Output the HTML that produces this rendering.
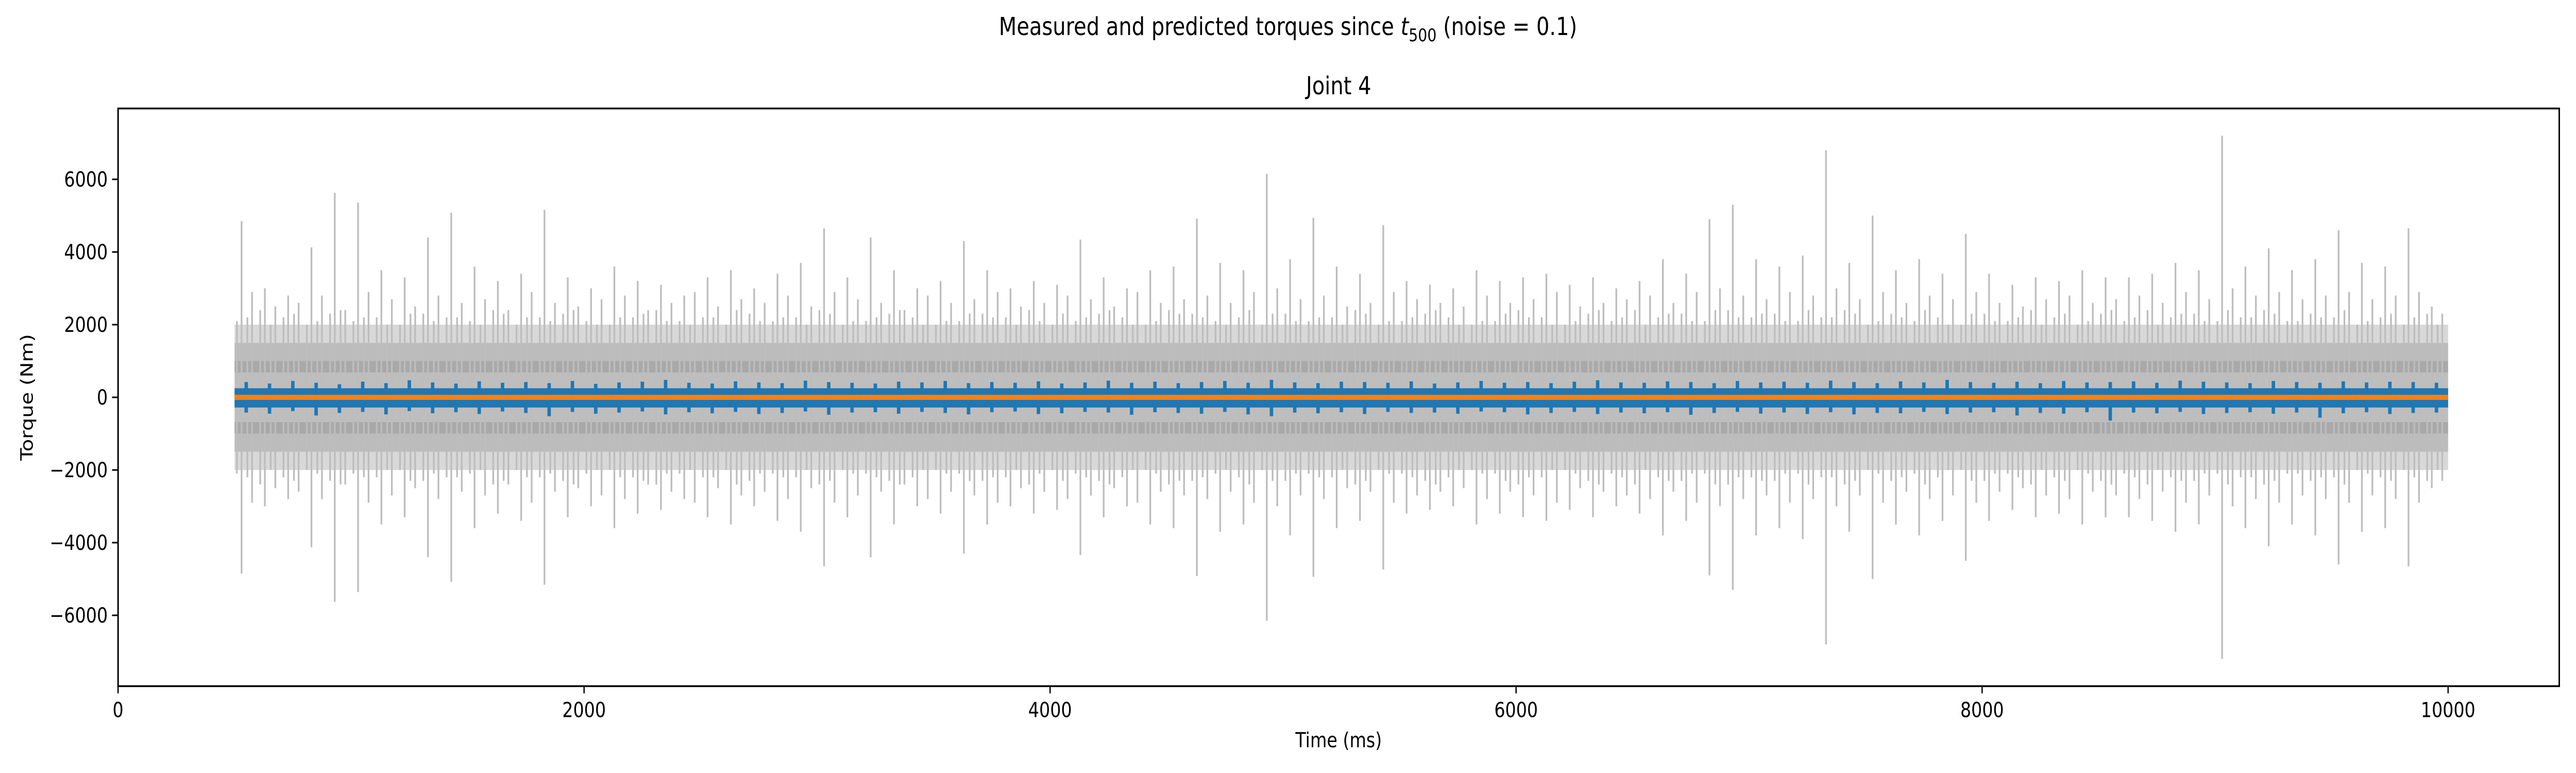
<!DOCTYPE html>
<html><head><meta charset="utf-8"><style>
html,body{margin:0;padding:0;background:#fff;width:100%;height:100%;overflow:hidden;}
svg{display:block;width:100vw;height:100vh;}
text{font-family:"DejaVu Sans","Liberation Sans",sans-serif;fill:#000;}
</style></head><body>
<svg id="chart" viewBox="0 0 6000 1500" preserveAspectRatio="none" xmlns="http://www.w3.org/2000/svg">
<rect width="6000" height="1500" fill="#fff"/>
<text x="3000" y="68" text-anchor="middle" font-size="48">Measured and predicted torques since <tspan font-style="italic">t</tspan><tspan font-size="34" dy="12">500</tspan><tspan dy="-12"> (noise = 0.1)</tspan></text>
<text x="3118" y="183" text-anchor="middle" font-size="48">Joint 4</text>
<g id="plot"></g>
<rect x="275" y="210.5" width="5686" height="1121" fill="none" stroke="#000" stroke-width="3.5"/>
<g id="xticks"></g>
<g id="yticks"></g>
<text x="3118" y="1450" text-anchor="middle" font-size="40">Time (ms)</text>
<text transform="translate(76,771) rotate(-90)" text-anchor="middle" font-size="40">Torque (Nm)</text>
</svg>
<script>
const binStart = [500,600,700,800,900,1000,1100,1200,1300,1400,1500,1600,1700,1800,1900,2000,2100,2200,2300,2400,2500,2600,2700,2800,2900,3000,3100,3200,3300,3400,3500,3600,3700,3800,3900,4000,4100,4200,4300,4400,4500,4600,4700,4800,4900,5000,5100,5200,5300,5400,5500,5600,5700,5800,5900,6000,6100,6200,6300,6400,6500,6600,6700,6800,6900,7000,7100,7200,7300,7400,7500,7600,7700,7800,7900,8000,8100,8200,8300,8400,8500,8600,8700,8800,8900,9000,9100,9200,9300,9400,9500,9600,9700,9800,9900];
const measuredPeak = [4850,3000,2800,4130,5630,5360,3500,3300,4400,5080,3600,3200,3400,5160,3300,3000,3600,3200,3100,2800,3300,3500,3000,3400,3700,4650,3300,4400,3500,3000,3200,4300,3500,3000,3200,3100,4340,3300,3000,3500,3600,4920,3700,3500,6150,3800,4940,3600,3400,4740,3200,3100,3000,3500,3200,3300,3400,3100,3300,3000,3200,3800,3400,4900,5300,3800,3600,3900,6800,3700,5000,3500,3800,3400,4500,3400,3100,3300,3200,3500,3300,3300,3400,3700,3500,7200,3600,4100,3500,3800,4600,3700,3600,4650,2500];
const measuredSecond = [2900,2500,2600,2800,2400,2900,2700,2500,2800,2600,2700,2400,2900,2600,2500,2700,2800,2400,2600,2900,2500,2700,2600,2800,2500,2900,2700,2600,2400,2800,2600,2700,2900,2500,2600,2800,2700,2500,2900,2600,2700,2800,2600,2900,3000,2700,2800,2500,2600,2900,2700,2600,2500,2800,2600,2700,2900,2500,2600,2700,2800,2600,2900,3000,2800,2700,2900,2800,3000,2700,2900,2600,2800,2700,2900,2600,2500,2700,2800,2600,2700,2800,2600,2900,2700,3000,2800,2900,2700,2800,2900,2700,2800,2900,2300];
const measuredThird = [2200,2000,2300,2100,2400,2200,2000,2300,2100,2200,2000,2300,2200,2100,2400,2000,2200,2300,2100,2000,2200,2400,2100,2200,2000,2300,2100,2200,2400,2000,2100,2300,2200,2000,2100,2300,2200,2400,2000,2100,2300,2200,2000,2400,2300,2100,2200,2000,2300,2100,2200,2400,2000,2100,2300,2200,2000,2100,2400,2200,2000,2300,2100,2400,2200,2300,2100,2400,2200,2300,2100,2200,2400,2000,2300,2100,2200,2000,2300,2100,2400,2200,2000,2300,2100,2400,2200,2300,2100,2200,2400,2100,2300,2200,2000];
const predMax = [420,380,450,400,360,430,390,470,410,380,440,400,420,390,450,370,410,430,480,400,380,440,410,390,460,420,400,380,430,410,450,390,420,400,440,380,410,460,400,430,390,420,450,400,480,410,390,430,420,400,440,380,410,450,400,420,390,430,470,410,400,440,420,390,450,410,430,400,460,420,390,440,410,480,420,400,430,390,450,410,420,440,400,460,430,410,390,450,420,400,440,410,430,420,400];
const predMin = [-420,-450,-380,-500,-430,-400,-470,-380,-440,-410,-460,-390,-430,-520,-400,-450,-420,-390,-470,-410,-440,-400,-460,-430,-390,-480,-420,-410,-450,-400,-430,-470,-410,-390,-460,-440,-400,-420,-480,-410,-430,-450,-400,-470,-520,-420,-440,-410,-460,-400,-430,-420,-450,-390,-410,-470,-430,-400,-460,-420,-440,-410,-480,-430,-400,-450,-420,-460,-410,-470,-430,-440,-400,-460,-420,-410,-500,-430,-450,-410,-640,-420,-440,-400,-460,-430,-410,-450,-420,-560,-440,-410,-460,-430,-420];
const xTicks = [0,2000,4000,6000,8000,10000];
const yTicks = [-6000,-4000,-2000,0,2000,4000,6000];
const yTickLabels = ["\u22126000","\u22124000","\u22122000","0","2000","4000","6000"];

const NS = "http://www.w3.org/2000/svg";
const X0 = 275, X1 = 5961, XMIN = 0, XMAX = 10477;
const Y0 = 1331.5, Y1 = 210.5, YMIN = -7950, YMAX = 7950;
function xs(v){ return X0 + (v - XMIN) / (XMAX - XMIN) * (X1 - X0); }
function ys(v){ return Y0 - (v - YMIN) / (YMAX - YMIN) * (Y0 - Y1); }
function mk(tag, attrs, parent){
  const el = document.createElementNS(NS, tag);
  for (const k in attrs) el.setAttribute(k, attrs[k]);
  parent.appendChild(el);
  return el;
}
const plot = document.getElementById('plot');
const tStart = binStart[0], tEnd = binStart[binStart.length-1] + 100;

const bands = [[2000,1500,'#d8d8d8'],[1500,1000,'#bcbcbc'],[1000,680,'#a9a9a9']];
bands.forEach(b => {
  [1,-1].forEach(s => {
    const r = mk('rect', {x: xs(tStart), y: Math.min(ys(s*b[0]), ys(s*b[1])), width: xs(tEnd)-xs(tStart), height: Math.abs(ys(b[0])-ys(b[1])), fill: b[2]}, plot);
    
    
  });
});
const core = mk('rect', {x: xs(tStart), y: ys(680), width: xs(tEnd)-xs(tStart), height: ys(-680)-ys(680), fill: '#bebebe'}, plot);



binStart.forEach((t, i) => {
  const a = mk('line', {x1: xs(t+30), x2: xs(t+30), y1: ys(measuredPeak[i]), y2: ys(-measuredPeak[i]), stroke: '#bdbdbd', 'stroke-width': 4}, plot);
  
  
  const b = mk('line', {x1: xs(t+75), x2: xs(t+75), y1: ys(measuredSecond[i]), y2: ys(-measuredSecond[i]), stroke: '#bdbdbd', 'stroke-width': 4}, plot);
  
  
  const c = mk('line', {x1: xs(t+55), x2: xs(t+55), y1: ys(measuredThird[i]), y2: ys(-measuredThird[i]), stroke: '#bdbdbd', 'stroke-width': 4}, plot);
  
  
  const d = mk('line', {x1: xs(t+10), x2: xs(t+10), y1: ys(measuredThird[(i+3)%measuredThird.length]), y2: ys(-measuredThird[(i+3)%measuredThird.length]), stroke: '#bdbdbd', 'stroke-width': 4}, plot);
  
  
});

const pb = mk('rect', {x: xs(tStart), y: ys(250), width: xs(tEnd)-xs(tStart), height: ys(-280)-ys(250), fill: '#1f77b4'}, plot);


binStart.forEach((t, i) => {
  const l = mk('line', {x1: xs(t+50), x2: xs(t+50), y1: ys(predMax[i]), y2: ys(predMin[i]), stroke: '#1f77b4', 'stroke-width': 8}, plot);
  
  
});

const ol = mk('line', {x1: xs(tStart), x2: xs(tEnd), y1: ys(0), y2: ys(0), stroke: '#ff7f0e', 'stroke-width': 10}, plot);



const xg = document.getElementById('xticks');
xTicks.forEach(v => {
  const t = mk('line', {x1: xs(v), x2: xs(v), y1: Y0, y2: Y0+14, stroke: '#000', 'stroke-width': 3}, xg);
  
  
  const tx = mk('text', {x: xs(v), y: Y0+60, 'text-anchor': 'middle', 'font-size': 40}, xg);
  tx.textContent = String(v);
  
  
});
const yg = document.getElementById('yticks');
yTicks.forEach((v, i) => {
  const t = mk('line', {x1: X0-14, x2: X0, y1: ys(v), y2: ys(v), stroke: '#000', 'stroke-width': 3}, yg);
  
  
  const tx = mk('text', {x: X0-24, y: ys(v)+14, 'text-anchor': 'end', 'font-size': 40}, yg);
  tx.textContent = yTickLabels[i];
  
  
});
</script>
</body></html>
